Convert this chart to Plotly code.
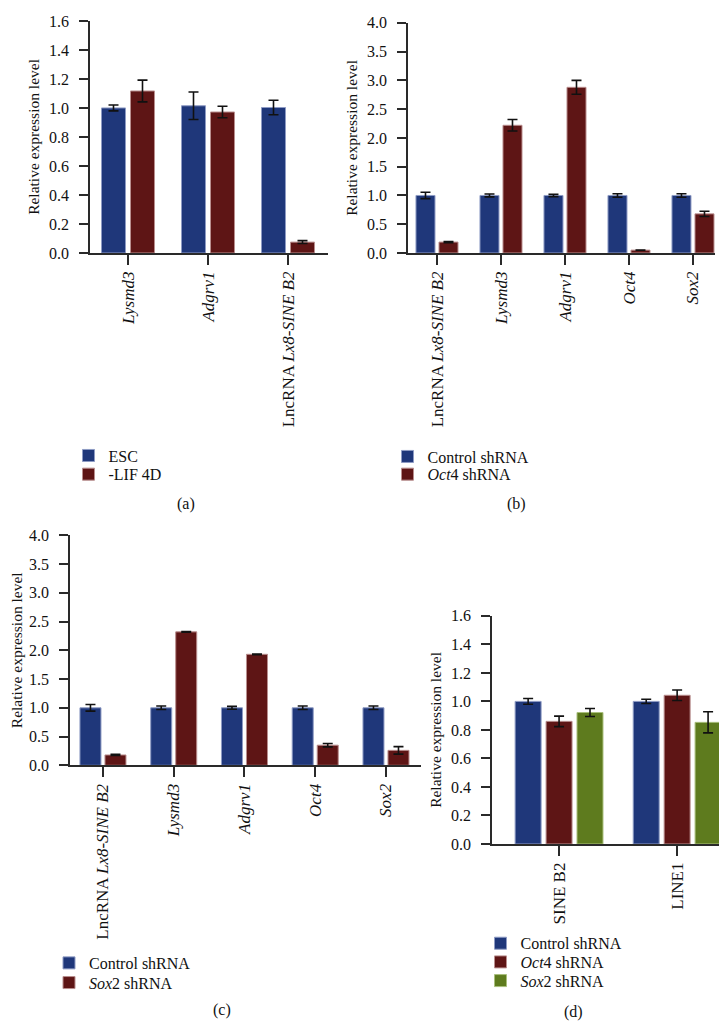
import plotly.graph_objects as go

# ---------------- data ----------------
a_categories = ["Lysmd3", "Adgrv1", "LncRNA Lx8-SINE B2"]
a_ticklabels = ["<i>Lysmd3</i>", "<i>Adgrv1</i>", "LncRNA <i>Lx8-SINE B2</i>"]
a_esc = [1.00, 1.015, 1.003]
a_esc_err = [0.02, 0.095, 0.05]
a_lif = [1.117, 0.972, 0.075]
a_lif_err = [0.075, 0.04, 0.01]

b_categories = ["LncRNA Lx8-SINE B2", "Lysmd3", "Adgrv1", "Oct4", "Sox2"]
b_ticklabels = ["LncRNA <i>Lx8-SINE B2</i>", "<i>Lysmd3</i>", "<i>Adgrv1</i>", "<i>Oct4</i>", "<i>Sox2</i>"]
b_control = [1.0, 1.0, 1.0, 1.0, 1.0]
b_control_err = [0.055, 0.025, 0.02, 0.03, 0.03]
b_oct4 = [0.19, 2.22, 2.88, 0.05, 0.68]
b_oct4_err = [0.01, 0.10, 0.12, 0.0, 0.045]

c_categories = ["LncRNA Lx8-SINE B2", "Lysmd3", "Adgrv1", "Oct4", "Sox2"]
c_ticklabels = ["LncRNA <i>Lx8-SINE B2</i>", "<i>Lysmd3</i>", "<i>Adgrv1</i>", "<i>Oct4</i>", "<i>Sox2</i>"]
c_control = [1.0, 1.0, 1.0, 1.0, 1.0]
c_control_err = [0.057, 0.03, 0.025, 0.03, 0.03]
c_sox2 = [0.18, 2.32, 1.93, 0.35, 0.26]
c_sox2_err = [0.01, 0.005, 0.005, 0.03, 0.065]

d_categories = ["SINE B2", "LINE1"]
d_control = [1.0, 1.0]
d_control_err = [0.02, 0.015]
d_oct4 = [0.86, 1.043]
d_oct4_err = [0.037, 0.037]
d_sox2 = [0.922, 0.853]
d_sox2_err = [0.028, 0.074]

y_title = "Relative expression level"
captions = ["(a)", "(b)", "(c)", "(d)"]

# ---------------- style ----------------
W, H = 727, 1022
FONT = "Liberation Serif, Times New Roman, serif"
BLUE, BLUE_EDGE = "#1f377a", "#8e9bc4"
RED, RED_EDGE = "#5e1515", "#b98e8e"
GREEN, GREEN_EDGE = "#5e7b1e", "#a9bf7c"
AX = "#2a2a2a"


def px(x):
    return x / W


def py(y):
    return 1 - y / H


fig = go.Figure()
legend_layouts = {}
legend_count = [0]


def legend_box(sq_x, row_y):
    legend_count[0] += 1
    key = "legend" if legend_count[0] == 1 else f"legend{legend_count[0]}"
    legend_layouts[key] = dict(
        x=px(sq_x - 26), y=py(row_y), xanchor="left", yanchor="middle",
        bgcolor="rgba(0,0,0,0)", itemwidth=30,
        font=dict(family=FONT, size=16, color="#111"))
    return key


def bars(cats, vals, errs, name, color, edge, xa, ya, width, offset, leg_pos):
    fig.add_trace(go.Bar(
        x=cats, y=vals, name=name,
        error_y=dict(type="data", array=errs, visible=True, color="#111111",
                     thickness=1.6, width=5),
        marker=dict(color=color, line=dict(color=edge, width=1)),
        width=width, offset=offset, xaxis=xa, yaxis=ya,
        legend=legend_box(*leg_pos),
    ))


# (a)
w, g = 0.30, 0.0625
bars(a_categories, a_esc, a_esc_err, "ESC", BLUE, BLUE_EDGE, "x", "y", w, -w - g / 2, (86.5, 447))
bars(a_categories, a_lif, a_lif_err, "-LIF 4D", RED, RED_EDGE, "x", "y", w, g / 2, (86.5, 466))
# (b)
w, g = 0.297, 0.0625
bars(b_categories, b_control, b_control_err, "Control shRNA", BLUE, BLUE_EDGE, "x2", "y2", w, -w - g / 2, (405.5, 448))
bars(b_categories, b_oct4, b_oct4_err, "<i>Oct</i>4 shRNA", RED, RED_EDGE, "x2", "y2", w, g / 2, (405.5, 466))
# (c)
w, g = 0.297, 0.0565
bars(c_categories, c_control, c_control_err, "Control shRNA", BLUE, BLUE_EDGE, "x3", "y3", w, -w - g / 2, (67, 963))
bars(c_categories, c_sox2, c_sox2_err, "<i>Sox</i>2 shRNA", RED, RED_EDGE, "x3", "y3", w, g / 2, (67, 983))
# (d)
w, g = 0.22, 0.042
bars(d_categories, d_control, d_control_err, "Control shRNA", BLUE, BLUE_EDGE, "x4", "y4", w, -1.5 * w - g, (498.5, 943))
bars(d_categories, d_oct4, d_oct4_err, "<i>Oct</i>4 shRNA", RED, RED_EDGE, "x4", "y4", w, -0.5 * w, (498.5, 962))
bars(d_categories, d_sox2, d_sox2_err, "<i>Sox</i>2 shRNA", GREEN, GREEN_EDGE, "x4", "y4", w, 0.5 * w + g, (498.5, 981))


def xaxis(domain, rng, cats, labels, anchor):
    return dict(domain=domain, range=rng, type="category", anchor=anchor,
                tickvals=cats, ticktext=labels, tickangle=-90,
                ticks="outside", ticklen=10, tickwidth=1.5, tickcolor=AX,
                showline=True, linecolor=AX, linewidth=1.5, showgrid=False,
                zeroline=False, tickfont=dict(family=FONT, size=17, color="#111"))


def yaxis(domain, rng, dtick, anchor):
    return dict(domain=domain, range=rng, dtick=dtick, tickformat=".1f", anchor=anchor,
                ticks="outside", ticklen=9, tickwidth=1.5, tickcolor=AX,
                ticklabelstandoff=7,
                showline=True, linecolor=AX, linewidth=1.5, showgrid=False,
                zeroline=False, tickfont=dict(family=FONT, size=16, color="#111"),
                title=dict(text=y_title, font=dict(family=FONT, size=15.5, color="#111"),
                           standoff=6))


fig.update_layout(
    width=W, height=H, margin=dict(l=0, r=0, t=0, b=0),
    paper_bgcolor="white", plot_bgcolor="white", barmode="overlay",
    xaxis=xaxis([px(82), px(320)], [-0.475, 2.5], a_categories, a_ticklabels, "y"),
    yaxis=yaxis([py(241), py(5)], [0, 1.6], 0.2, "x"),
    xaxis2=xaxis([px(400), px(707)], [-0.453, 4.344], b_categories, b_ticklabels, "y2"),
    yaxis2=yaxis([py(241), py(7)], [0, 4.0], 0.5, "x2"),
    xaxis3=xaxis([px(62), px(413)], [-0.466, 4.495], c_categories, c_ticklabels, "y3"),
    yaxis3=yaxis([py(762), py(528)], [0, 4.0], 0.5, "x3"),
    xaxis4=xaxis([px(484), 1.0], [-0.568, 1.49], d_categories, d_categories, "y4"),
    yaxis4=yaxis([py(842), py(610)], [0, 1.6], 0.2, "x4"),
    showlegend=True,
    **legend_layouts,
)

cap_pos = [(167, 498), (520, 498), (203, 1013), (577, 1015)]
for text, (cx, cy) in zip(captions, cap_pos):
    fig.add_annotation(text=text, x=px(cx), y=py(cy + 9), xref="paper", yref="paper",
                       yanchor="bottom", showarrow=False,
                       font=dict(family=FONT, size=16, color="#111"))

fig.write_html("out.html")
